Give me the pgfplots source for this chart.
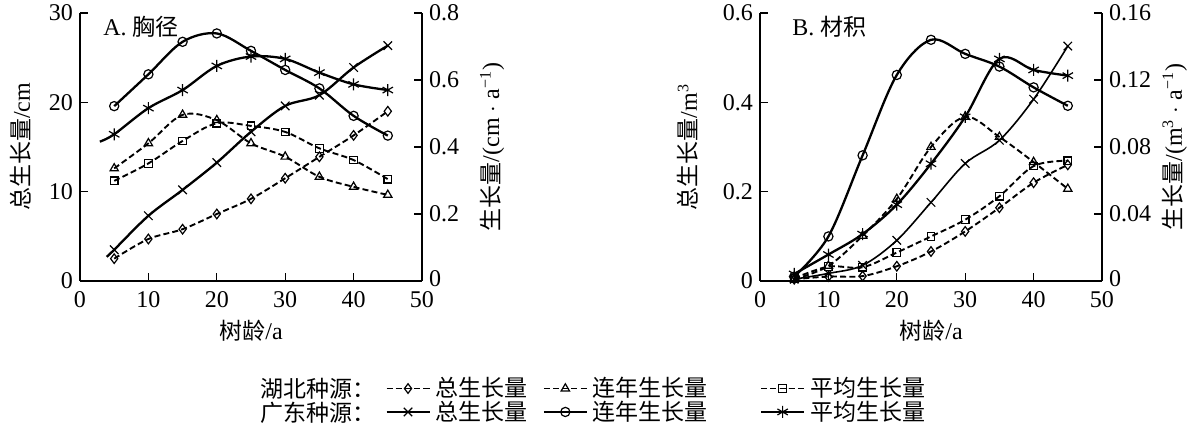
\documentclass[border=0pt]{standalone}
\usepackage{fontspec}
\setmainfont{Liberation Serif}
\newfontfamily\cjk{Noto Sans CJK SC}
\usepackage{pgfplots}
\pgfplotsset{compat=1.18}
\newcommand\zh[1]{{\cjk\fontsize{11.5}{12}\selectfont #1}}
\pgfplotsset{
  base/.style={width=171pt,height=134pt,scale only axis,xmin=0,xmax=50,
    tick align=inside, major tick length=4pt,
    tick style={black,line width=0.6pt},
    axis line style={line width=0.7pt},
    ticklabel style={font=\fontsize{12}{12}\selectfont},
    label style={font=\fontsize{12}{13}\selectfont},
    /pgf/number format/assume math mode=true,
    scaled ticks=false},
  leftax/.style={base, axis y line*=left, axis x line*=bottom, xtick={0,10,20,30,40,50},
    xticklabel style={yshift=-1.5pt},
    xlabel style={at={(axis description cs:0.5,-0.187)},anchor=center}},
  rightax/.style={base, axis y line*=right, axis x line=none},
  hb/.style={black, line width=0.95pt, dash pattern=on 3pt off 1.6pt, smooth, tension=0.55,
    mark options={solid, fill=white, line width=0.6pt}},
  gd/.style={black, line width=1.15pt, smooth, tension=0.55,
    mark options={solid, fill=white, line width=0.6pt}},
}
\begin{document}
\begin{tikzpicture}
\path[use as bounding box] (-40pt,-76pt) rectangle (558pt,140.5pt);
% ---------------- A: left axis
\begin{axis}[leftax, at={(0,0)}, anchor=south west, ymin=0, ymax=30, ytick={0,10,20,30},
  xlabel={\zh{树龄}/a}, ylabel={\zh{总生长量}/cm},
  ylabel style={at={(axis description cs:-0.1725,0.5)},anchor=center},
  legend columns=3,
  legend style={at={(axis description cs:0.8918,-0.358)}, anchor=north west, draw=none, fill=none,
    inner sep=0pt, nodes={inner sep=0pt}, column sep=0pt, row sep=0.5pt,
    font=\cjk\fontsize{11.5}{12}\selectfont},
  legend cell align=left,
  legend image code/.code={\draw[mark repeat=2,mark phase=2,#1] plot coordinates {(0pt,0pt)(10.75pt,0pt)(21.5pt,0pt)};}
]
\addplot[hb, mark=diamond, mark size=2.4pt, forget plot] coordinates {(5,2.5)(10,4.7)(15,5.8)(20,7.5)(25,9.2)(30,11.5)(35,13.9)(40,16.3)(45,19.0)};
\addplot[gd, mark=x, mark size=3pt, mark indices={2,3,4,5,6,7,8,9,10}, forget plot] coordinates {(3.9,2.7)(5,3.5)(10,7.3)(15,10.2)(20,13.25)(25,16.7)(30,19.6)(35,20.8)(40,23.9)(45,26.35)};
\addlegendimage{hb, mark=diamond, mark size=2.4pt}
\addlegendentry{\makebox[56pt][l]{\hspace{2.5pt}总生长量}}
\addlegendimage{hb, mark=triangle, mark size=2.4pt}
\addlegendentry{\makebox[86pt][l]{\hspace{2.5pt}连年生长量}}
\addlegendimage{hb, mark=square, mark size=1.9pt}
\addlegendentry{\hspace{2.5pt}平均生长量}
\addlegendimage{gd, mark=x, mark size=3pt}
\addlegendentry{\makebox[56pt][l]{\hspace{2.5pt}总生长量}}
\addlegendimage{gd, mark=o, mark size=2.3pt}
\addlegendentry{\makebox[86pt][l]{\hspace{2.5pt}连年生长量}}
\addlegendimage{gd, mark=asterisk, mark size=3pt}
\addlegendentry{\hspace{2.5pt}平均生长量}
\end{axis}
% ---------------- A: right axis
\begin{axis}[rightax, at={(0,0)}, anchor=south west, ymin=0, ymax=0.8,
  ytick={0,0.2,0.4,0.6,0.8}, yticklabels={\raisebox{2pt}{0},0.2,0.4,0.6,0.8},
  ylabel={\zh{生长量}/(cm $\cdot$ a\textsuperscript{−1})},
  ylabel style={at={(axis description cs:1.205,0.5)},anchor=center}]
\addplot[hb, mark=triangle, mark size=2.4pt] coordinates {(5,0.336)(10,0.411)(15,0.496)(20,0.480)(25,0.411)(30,0.371)(35,0.311)(40,0.281)(45,0.257)};
\addplot[hb, mark=square, mark size=1.9pt] coordinates {(5,0.299)(10,0.351)(15,0.418)(20,0.471)(25,0.463)(30,0.445)(35,0.396)(40,0.361)(45,0.304)};
\addplot[gd, mark=o, mark size=2.3pt] coordinates {(5,0.522)(10,0.617)(15,0.714)(20,0.739)(25,0.687)(30,0.630)(35,0.575)(40,0.493)(45,0.434)};
\addplot[gd, mark=asterisk, mark size=3pt, mark indices={2,3,4,5,6,7,8,9,10}] coordinates {(2.9,0.416)(5,0.438)(10,0.516)(15,0.570)(20,0.642)(25,0.670)(30,0.663)(35,0.622)(40,0.587)(45,0.570)};
\end{axis}
% ---------------- B: left axis
\begin{axis}[leftax, at={(340pt,0)}, anchor=south west, ymin=0, ymax=0.6,
  ytick={0,0.2,0.4,0.6}, yticklabels={0,0.2,0.4,0.6},
  xlabel={\zh{树龄}/a}, ylabel={\zh{总生长量}/m\textsuperscript{3}},
  ylabel style={at={(axis description cs:-0.21,0.5)},anchor=center}]
\addplot[hb, mark=diamond, mark size=2.4pt] coordinates {(5,0.004)(10,0.010)(15,0.011)(20,0.033)(25,0.066)(30,0.111)(35,0.164)(40,0.220)(45,0.260)};
\addplot[gd, mark=x, mark size=3pt, line width=0.8pt] coordinates {(5,0.004)(10,0.017)(15,0.035)(20,0.091)(25,0.176)(30,0.263)(35,0.315)(40,0.407)(45,0.526)};
\end{axis}
% ---------------- B: right axis
\begin{axis}[rightax, at={(340pt,0)}, anchor=south west, ymin=0, ymax=0.16,
  ytick={0,0.04,0.08,0.12,0.16}, yticklabels={\raisebox{2pt}{0},0.04,0.08,0.12,0.16},
  ylabel={\zh{生长量}/(m\textsuperscript{3} $\cdot$ a\textsuperscript{−1})},
  ylabel style={at={(axis description cs:1.213,0.5)},anchor=center}]
\addplot[hb, mark=triangle, mark size=2.4pt] coordinates {(5,0.001)(10,0.009)(15,0.027)(20,0.049)(25,0.080)(30,0.098)(35,0.086)(40,0.071)(45,0.055)};
\addplot[hb, mark=square, mark size=1.9pt] coordinates {(5,0.0016)(10,0.0086)(15,0.0082)(20,0.017)(25,0.0266)(30,0.0366)(35,0.0506)(40,0.0686)(45,0.0718)};
\addplot[gd, mark=o, mark size=2.3pt] coordinates {(5,0.0026)(10,0.0266)(15,0.075)(20,0.123)(25,0.144)(30,0.1356)(35,0.128)(40,0.1156)(45,0.1046)};
\addplot[gd, mark=asterisk, mark size=3pt] coordinates {(5,0.0042)(10,0.0158)(15,0.028)(20,0.0456)(25,0.070)(30,0.098)(35,0.1326)(40,0.126)(45,0.1226)};
\end{axis}
% ---------------- titles and legend row labels
\node[anchor=west, font=\fontsize{12}{13}\selectfont, inner sep=0pt] at (11.5pt,127pt) {A. \zh{胸径}};
\node[anchor=west, font=\fontsize{12}{13}\selectfont, inner sep=0pt] at (356pt,127pt) {B. \zh{材积}};
\node[anchor=west, inner sep=0pt] at (90pt,-54pt) {\zh{湖北种源：}};
\node[anchor=west, inner sep=0pt] at (90pt,-66pt) {\zh{广东种源：}};
\end{tikzpicture}
\end{document}
